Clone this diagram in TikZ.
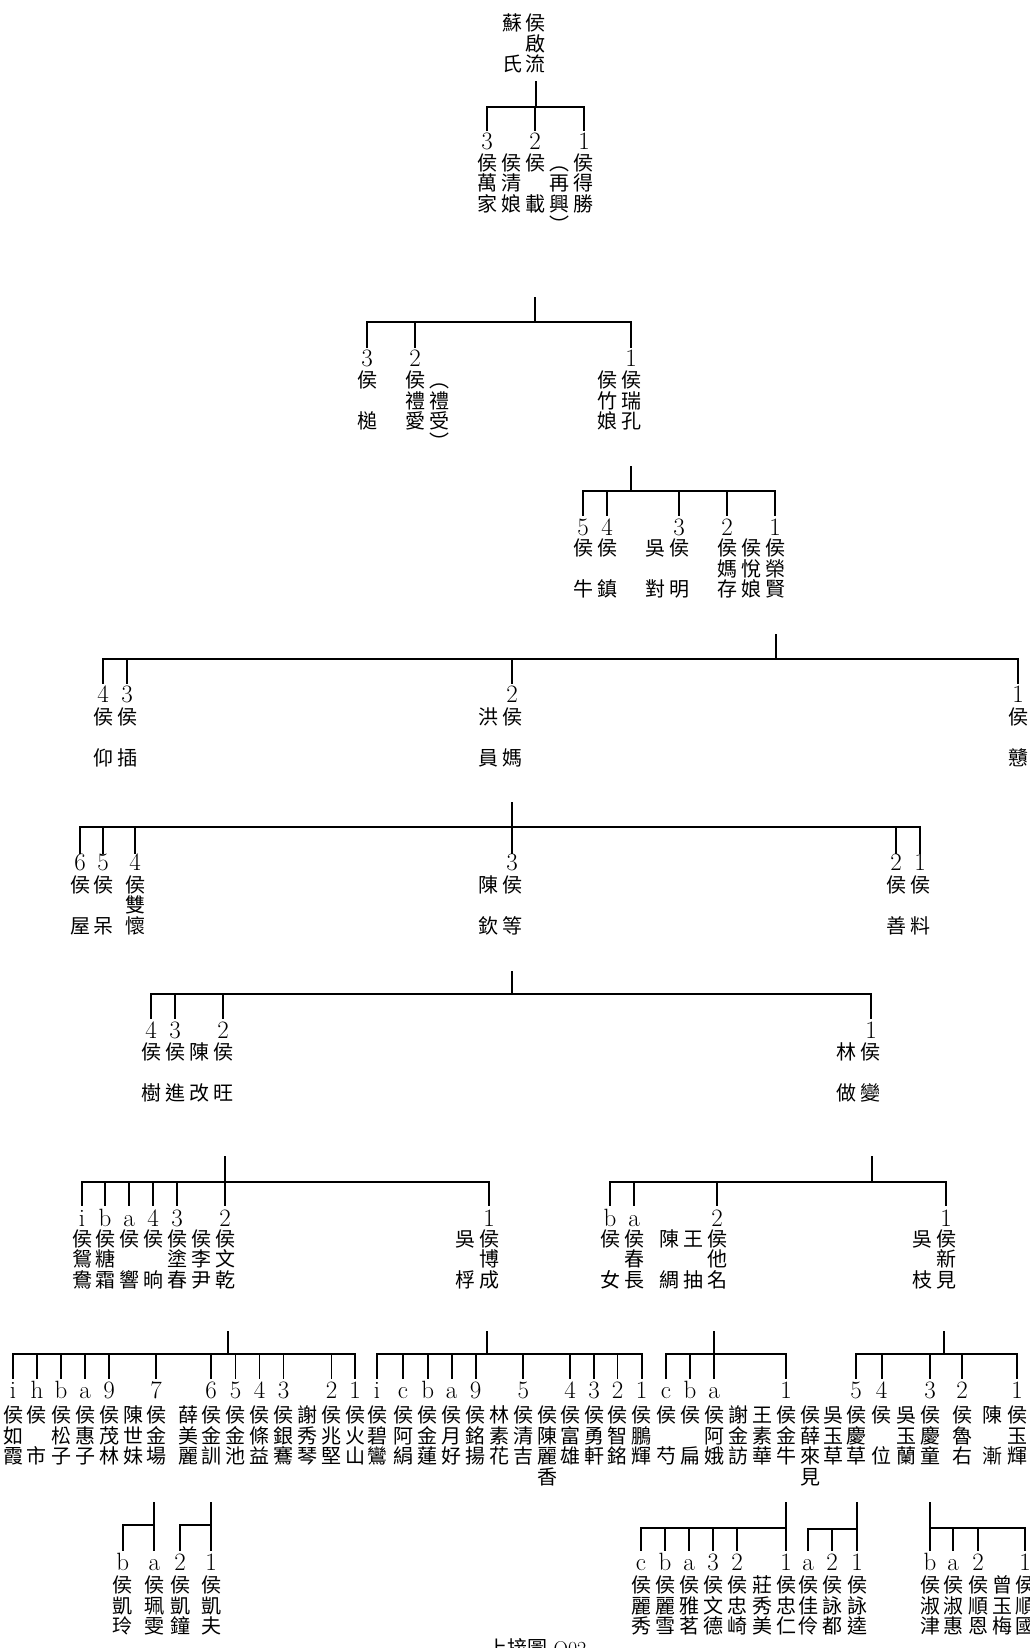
\documentclass[tikz,border=0pt]{standalone}
\usepackage{fontspec}
\newfontfamily\cjk{Noto Sans CJK TC}
\tikzset{
 ch/.style={font={\cjk\fontsize{20}{20}\selectfont}, inner sep=0pt, anchor=base},
 dg/.style={font={\fontsize{25}{25}\selectfont}, inner sep=0pt, anchor=base},
 ln/.style={line width=1.8pt, line cap=rect},
}
\newcommand\vcol[4]{\foreach \vv [count=\vk] in {#4}{\node[ch] (#1-\vk) at ({#2},{#3+(\vk-1)*20.6+7.6}) {\vv};}}
\newcommand\dgs[3]{\foreach \xx/\ll [count=\kk] in {#3}{\node[dg] (#1-\kk) at ({\xx},{#2+8.3}) {\ll};}}
\newcommand\grp[5]{%
 \draw[ln] (#1) -- (#1 |- 0,#2);
 \draw[ln] (#4-1 |- 0,#2) -- (#4-#5 |- 0,#2);
 \foreach \kk in {1,...,#5}{\draw[ln] (#4-\kk |- 0,#2) -- (#4-\kk |- 0,#3);}
}
\begin{document}
\begin{tikzpicture}[x=1pt,y=-1pt]
\fill[white] (0,0) rectangle (1030,1648);
\useasboundingbox (0,0) rectangle (1030,1648);
% L1
\vcol{a1}{512}{23}{蘇,{},氏}
\vcol{a2}{535}{23}{侯,啟,流}
% L2
\vcol{b1}{487}{162.7}{侯,萬,家}
\vcol{b2}{511}{162.7}{侯,清,娘}
\vcol{b3}{535}{162.7}{侯,{},載}
\vcol{b4}{559}{162.7}{︵,再,興,︶}
\vcol{b5}{583}{162.7}{侯,得,勝}
% L3
\vcol{c1}{367}{380}{侯,{},槌}
\vcol{c2}{415}{380}{侯,禮,愛}
\vcol{c3}{439}{380}{︵,禮,受,︶}
\vcol{c4}{607}{380}{侯,竹,娘}
\vcol{c5}{631}{380}{侯,瑞,孔}
% L4
\vcol{d1}{583}{548}{侯,{},牛}
\vcol{d2}{607}{548}{侯,{},鎮}
\vcol{d3}{655}{548}{吳,{},對}
\vcol{d4}{679}{548}{侯,{},明}
\vcol{d5}{727}{548}{侯,媽,存}
\vcol{d6}{751}{548}{侯,悅,娘}
\vcol{d7}{775}{548}{侯,榮,賢}
% L5
\vcol{e1}{103}{716.5}{侯,{},仰}
\vcol{e2}{127}{716.5}{侯,{},插}
\vcol{e3}{488}{716.5}{洪,{},員}
\vcol{e4}{512}{716.5}{侯,{},媽}
\vcol{e5}{1018}{716.5}{侯,{},戇}
% L6
\vcol{f1}{80}{884.5}{侯,{},屋}
\vcol{f2}{103}{884.5}{侯,{},呆}
\vcol{f3}{135}{884.5}{侯,雙,懷}
\vcol{f4}{488}{884.5}{陳,{},欽}
\vcol{f5}{512}{884.5}{侯,{},等}
\vcol{f6}{896}{884.5}{侯,{},善}
\vcol{f7}{920}{884.5}{侯,{},料}
% L7
\vcol{g1}{151}{1052}{侯,{},樹}
\vcol{g2}{175}{1052}{侯,{},進}
\vcol{g3}{199}{1052}{陳,{},改}
\vcol{g4}{223}{1052}{侯,{},旺}
\vcol{g5}{846}{1052}{林,{},做}
\vcol{g6}{870}{1052}{侯,{},變}
% L8
\vcol{h1}{82}{1238.5}{侯,鴛,鴦}
\vcol{h2}{105}{1238.5}{侯,糖,霜}
\vcol{h3}{129}{1238.5}{侯,{},響}
\vcol{h4}{153}{1238.5}{侯,{},晌}
\vcol{h5}{177}{1238.5}{侯,塗,春}
\vcol{h6}{201}{1238.5}{侯,李,尹}
\vcol{h7}{225}{1238.5}{侯,文,乾}
\vcol{h8}{465}{1238.5}{吳,{},桴}
\vcol{h9}{489}{1238.5}{侯,博,成}
\vcol{h10}{610}{1238.5}{侯,{},女}
\vcol{h11}{634}{1238.5}{侯,春,長}
\vcol{h12}{669}{1238.5}{陳,{},綢}
\vcol{h13}{693}{1238.5}{王,{},抽}
\vcol{h14}{717}{1238.5}{侯,他,名}
\vcol{h15}{922}{1238.5}{吳,{},枝}
\vcol{h16}{946}{1238.5}{侯,新,見}
% L9
\vcol{i1}{13}{1415}{侯,如,霞}
\vcol{i2}{37}{1415}{侯,{},市}
\vcol{i3}{61}{1415}{侯,松,子}
\vcol{i4}{85}{1415}{侯,惠,子}
\vcol{i5}{109}{1415}{侯,茂,林}
\vcol{i6}{133}{1415}{陳,世,妹}
\vcol{i7}{156}{1415}{侯,金,場}
\vcol{i8}{188}{1415}{薛,美,麗}
\vcol{i9}{211}{1415}{侯,金,訓}
\vcol{i10}{235.5}{1415}{侯,金,池}
\vcol{i11}{259.5}{1415}{侯,條,益}
\vcol{i12}{283.5}{1415}{侯,銀,鶱}
\vcol{i13}{307}{1415}{謝,秀,琴}
\vcol{i14}{331.5}{1415}{侯,兆,堅}
\vcol{i15}{355}{1415}{侯,火,山}
\vcol{j1}{377}{1415}{侯,碧,鸞}
\vcol{j2}{403}{1415}{侯,阿,絹}
\vcol{j3}{427.7}{1415}{侯,金,蓮}
\vcol{j4}{451.7}{1415}{侯,月,好}
\vcol{j5}{475.7}{1415}{侯,銘,揚}
\vcol{j6}{499.5}{1415}{林,素,花}
\vcol{j7}{523.3}{1415}{侯,清,吉}
\vcol{j8}{547}{1415}{侯,陳,麗,香}
\vcol{j9}{570}{1415}{侯,富,雄}
\vcol{j10}{594}{1415}{侯,勇,軒}
\vcol{j11}{617.5}{1415}{侯,智,銘}
\vcol{j12}{641.7}{1415}{侯,鵬,輝}
\vcol{k1}{666}{1415}{侯,{},芍}
\vcol{k2}{690}{1415}{侯,{},扁}
\vcol{k3}{714}{1415}{侯,阿,娥}
\vcol{k4}{738}{1415}{謝,金,訪}
\vcol{k5}{762}{1415}{王,素,華}
\vcol{k6}{786}{1415}{侯,金,牛}
\vcol{k7}{810}{1415}{侯,薛,來,見}
\vcol{k8}{833}{1415}{吳,玉,草}
\vcol{m1}{856}{1415}{侯,慶,草}
\vcol{m2}{881.7}{1415}{侯,{},位}
\vcol{m3}{906}{1415}{吳,玉,蘭}
\vcol{m4}{930}{1415}{侯,慶,童}
\vcol{m5}{962}{1415}{侯,魯,右}
\vcol{m6}{992}{1415}{陳,{},漸}
\vcol{m7}{1017}{1415}{侯,玉,輝}
% L10
\vcol{n1}{122.7}{1585}{侯,凱,玲}
\vcol{n2}{154.3}{1585}{侯,珮,雯}
\vcol{n3}{180}{1585}{侯,凱,鐘}
\vcol{n4}{211}{1585}{侯,凱,夫}
\vcol{o1}{641}{1585}{侯,麗,秀}
\vcol{o2}{665}{1585}{侯,麗,雪}
\vcol{o3}{689}{1585}{侯,雅,茗}
\vcol{o4}{713}{1585}{侯,文,德}
\vcol{o5}{737}{1585}{侯,忠,崎}
\vcol{o6}{762}{1585}{莊,秀,美}
\vcol{o7}{786}{1585}{侯,忠,仁}
\vcol{p1}{808}{1585}{侯,佳,伶}
\vcol{p2}{832}{1585}{侯,詠,都}
\vcol{p3}{857}{1585}{侯,詠,逵}
\vcol{q1}{930}{1585}{侯,淑,津}
\vcol{q2}{953}{1585}{侯,淑,惠}
\vcol{q3}{978}{1585}{侯,順,恩}
\vcol{q4}{1002}{1585}{曾,玉,梅}
\vcol{q5}{1025}{1585}{侯,順,國}
% labels
\dgs{t2}{141.7}{487/3,535/2,584/1}
\dgs{t3}{358}{367/3,415/2,631/1}
\dgs{t4}{526.7}{583/5,607/4,679/3,727/2,775/1}
\dgs{t5}{694.5}{103/4,127/3,512/2,1018/1}
\dgs{t6}{862}{80/6,103/5,135/4,512/3,896/2,920/1}
\dgs{t7}{1030}{151/4,175/3,223/2,871/1}
\dgs{t8}{1218}{82/i,105/b,129/a,153/4,177/3,225/2,489/1}
\dgs{u8}{1218}{610/b,634/a,717/2,946/1}
\dgs{tA}{1390}{13/i,37/h,61/b,85/a,109/9,156/7,211/6,235.5/5,259.5/4,283.5/3,331.5/2,355/1}
\dgs{tB}{1390}{377/i,403/c,427.7/b,451.7/a,475.7/9,523.3/5,570/4,594/3,617.5/2,641.7/1}
\dgs{tC}{1390}{666/c,690/b,714/a,786/1}
\dgs{tD}{1390}{856/5,881.7/4,930/3,962/2,1017/1}
\dgs{tH}{1562}{122.7/b,154.3/a}
\dgs{tI}{1562}{180/2,211/1}
\dgs{tE}{1562}{641/c,665/b,689/a,713/3,737/2,786/1}
\dgs{tF}{1562}{808/a,832/2,857/1}
\dgs{tG}{1562}{930/b,953/a,978/2,1025/1}
% connectors
\coordinate (s1) at (536,82);     \grp{s1}{107}{130}{t2}{3}
\coordinate (s2) at (535,298);    \grp{s2}{322}{346.7}{t3}{3}
\coordinate (s3) at (631,467);    \grp{s3}{491}{515}{t4}{5}
\coordinate (s4) at (776,635);    \grp{s4}{659}{683}{t5}{4}
\coordinate (s5) at (512,803);    \grp{s5}{827}{853}{t6}{6}
\coordinate (s6) at (512,972);    \grp{s6}{994}{1018}{t7}{4}
\coordinate (s7) at (225,1157);   \grp{s7}{1182}{1205}{t8}{7}
\coordinate (s8) at (872,1157);   \grp{s8}{1182}{1205}{u8}{4}
\coordinate (s9) at (227.7,1332); \grp{s9}{1354}{1378}{tA}{12}
\coordinate (s10) at (487,1332);  \grp{s10}{1354}{1378}{tB}{10}
\coordinate (s11) at (714,1332);  \grp{s11}{1354}{1378}{tC}{4}
\coordinate (s12) at (944,1332);  \grp{s12}{1354}{1378}{tD}{5}
\coordinate (s13) at (154.3,1503); \grp{s13}{1525}{1550}{tH}{2}
\coordinate (s14) at (211,1503);  \grp{s14}{1525}{1550}{tI}{2}
\coordinate (s15) at (786,1503);  \grp{s15}{1528}{1550}{tE}{6}
\coordinate (s16) at (857,1503);  \grp{s16}{1529}{1550}{tF}{3}
\coordinate (s17) at (930,1503);  \grp{s17}{1528}{1550}{tG}{4}
% footer
\node[font={\fontsize{20}{20}\selectfont}, inner sep=0pt, anchor=base] (foot) at (537,1655) {{\cjk 上接圖} Q02};
\end{tikzpicture}
\end{document}
